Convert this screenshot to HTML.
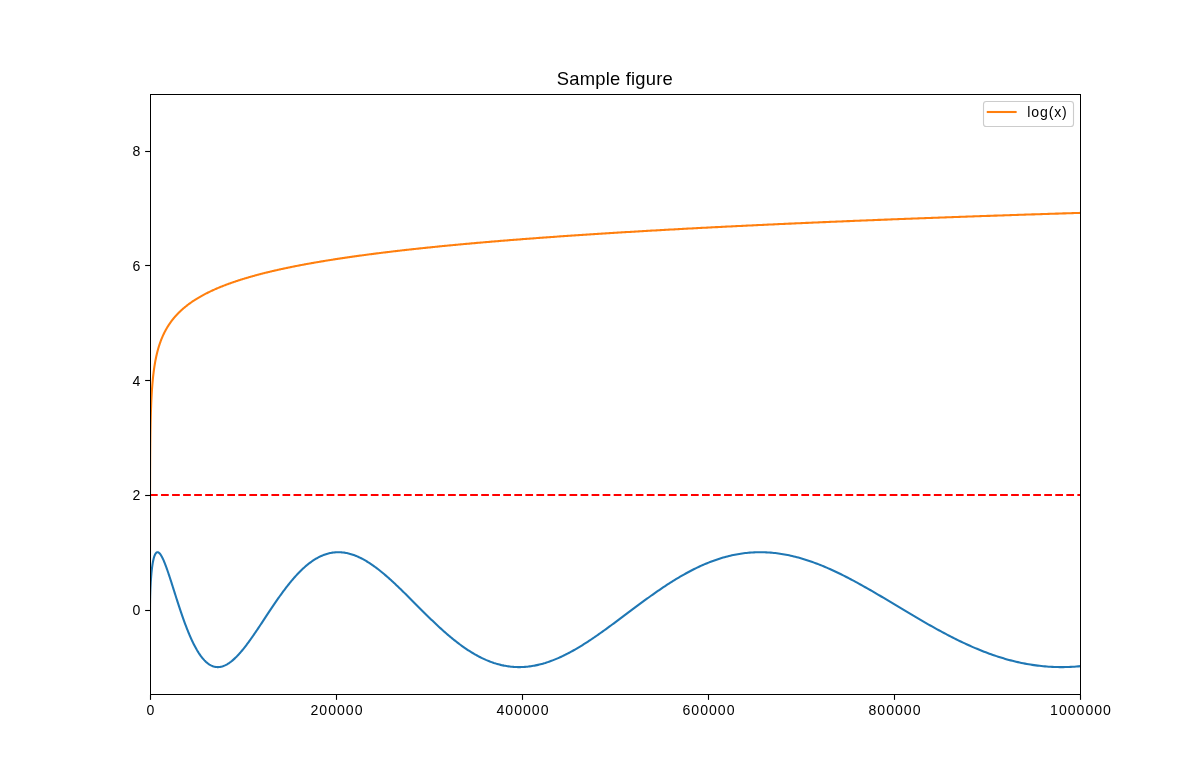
<!DOCTYPE html>
<html><head><meta charset="utf-8"><style>
html,body{margin:0;padding:0;background:#fff;}
body{width:1200px;height:780px;overflow:hidden;position:relative;font-family:"Liberation Sans",sans-serif;}
svg{position:absolute;left:0;top:0;will-change:transform;}
text{font-family:"Liberation Sans",sans-serif;fill:#000;}
</style></head><body>
<svg width="1200" height="780" viewBox="0 0 1200 780">
<defs><clipPath id="c"><rect x="150" y="94" width="931" height="601"/></clipPath></defs>
<g clip-path="url(#c)" fill="none" stroke-linejoin="round">
<path d="M150.00,609.66 L150.00,608.66 L150.00,607.66 L150.01,606.65 L150.01,605.65 L150.02,604.65 L150.03,603.66 L150.05,602.66 L150.06,601.67 L150.08,600.67 L150.09,599.69 L150.11,598.70 L150.13,597.72 L150.16,596.74 L150.18,595.76 L150.21,594.79 L150.24,593.83 L150.27,592.87 L150.30,591.91 L150.34,590.96 L150.37,590.02 L150.41,589.08 L150.45,588.14 L150.49,587.22 L150.54,586.30 L150.58,585.39 L150.63,584.48 L150.68,583.58 L150.73,582.69 L150.78,581.81 L150.84,580.94 L150.89,580.08 L150.95,579.22 L151.01,578.38 L151.08,577.54 L151.14,576.71 L151.21,575.90 L151.27,575.09 L151.34,574.30 L151.41,573.51 L151.49,572.74 L151.56,571.98 L151.64,571.23 L151.72,570.49 L151.80,569.76 L151.88,569.05 L151.97,568.34 L152.05,567.65 L152.14,566.98 L152.23,566.31 L152.32,565.66 L152.42,565.02 L152.51,564.40 L152.61,563.79 L152.71,563.19 L152.81,562.61 L152.92,562.04 L153.02,561.49 L153.13,560.95 L153.24,560.43 L153.35,559.92 L153.46,559.42 L153.57,558.95 L153.69,558.48 L153.81,558.04 L153.93,557.60 L154.05,557.19 L154.17,556.79 L154.30,556.40 L154.43,556.04 L154.56,555.69 L154.69,555.35 L154.82,555.03 L154.96,554.73 L155.09,554.45 L155.23,554.18 L155.37,553.93 L155.51,553.69 L155.66,553.48 L155.80,553.28 L155.95,553.09 L156.10,552.93 L156.25,552.78 L156.41,552.65 L156.56,552.54 L156.72,552.44 L156.88,552.36 L157.04,552.30 L157.20,552.26 L157.37,552.23 L157.53,552.22 L157.70,552.23 L157.87,552.26 L158.04,552.30 L158.22,552.36 L158.39,552.44 L158.57,552.54 L158.75,552.65 L158.93,552.78 L159.11,552.93 L159.30,553.09 L159.49,553.28 L159.68,553.48 L159.87,553.69 L160.06,553.93 L160.25,554.18 L160.45,554.45 L160.65,554.73 L160.85,555.03 L161.05,555.35 L161.25,555.69 L161.46,556.04 L161.67,556.40 L161.88,556.79 L162.09,557.19 L162.30,557.60 L162.51,558.04 L162.73,558.48 L162.95,558.95 L163.17,559.42 L163.39,559.92 L163.62,560.43 L163.84,560.95 L164.07,561.49 L164.30,562.04 L164.53,562.61 L164.76,563.19 L165.00,563.79 L165.24,564.40 L165.48,565.02 L165.72,565.66 L165.96,566.31 L166.20,566.98 L166.45,567.65 L166.70,568.34 L166.95,569.05 L167.20,569.76 L167.46,570.49 L167.71,571.23 L167.97,571.98 L168.23,572.74 L168.49,573.51 L168.75,574.30 L169.02,575.09 L169.28,575.90 L169.55,576.71 L169.82,577.54 L170.10,578.38 L170.37,579.22 L170.65,580.08 L170.93,580.94 L171.20,581.81 L171.49,582.69 L171.77,583.58 L172.06,584.48 L172.34,585.39 L172.63,586.30 L172.92,587.22 L173.22,588.14 L173.51,589.08 L173.81,590.02 L174.11,590.96 L174.41,591.91 L174.71,592.87 L175.01,593.83 L175.32,594.79 L175.63,595.76 L175.94,596.74 L176.25,597.72 L176.56,598.70 L176.88,599.69 L177.19,600.67 L177.51,601.67 L177.83,602.66 L178.16,603.66 L178.48,604.65 L178.81,605.65 L179.14,606.65 L179.47,607.66 L179.80,608.66 L180.13,609.66 L180.47,610.66 L180.81,611.66 L181.14,612.67 L181.49,613.67 L181.83,614.67 L182.17,615.66 L182.52,616.66 L182.87,617.65 L183.22,618.65 L183.57,619.63 L183.93,620.62 L184.28,621.60 L184.64,622.58 L185.00,623.56 L185.36,624.53 L185.73,625.49 L186.09,626.45 L186.46,627.41 L186.83,628.36 L187.20,629.30 L187.57,630.24 L187.95,631.18 L188.32,632.10 L188.70,633.02 L189.08,633.93 L189.47,634.84 L189.85,635.74 L190.24,636.63 L190.62,637.51 L191.01,638.38 L191.40,639.24 L191.80,640.10 L192.19,640.94 L192.59,641.78 L192.99,642.61 L193.39,643.42 L193.79,644.23 L194.20,645.02 L194.60,645.81 L195.01,646.58 L195.42,647.34 L195.83,648.09 L196.25,648.83 L196.66,649.56 L197.08,650.27 L197.50,650.98 L197.92,651.67 L198.35,652.34 L198.77,653.01 L199.20,653.66 L199.63,654.30 L200.06,654.92 L200.49,655.53 L200.92,656.13 L201.36,656.71 L201.80,657.28 L202.24,657.83 L202.68,658.37 L203.12,658.89 L203.57,659.40 L204.02,659.90 L204.46,660.37 L204.92,660.84 L205.37,661.28 L205.82,661.72 L206.28,662.13 L206.74,662.53 L207.20,662.92 L207.66,663.28 L208.12,663.63 L208.59,663.97 L209.06,664.29 L209.53,664.59 L210.00,664.87 L210.47,665.14 L210.95,665.39 L211.43,665.63 L211.90,665.84 L212.39,666.04 L212.87,666.23 L213.35,666.39 L213.84,666.54 L214.33,666.67 L214.82,666.78 L215.31,666.88 L215.80,666.96 L216.30,667.02 L216.80,667.06 L217.30,667.09 L217.80,667.10 L218.30,667.09 L218.81,667.06 L219.31,667.02 L219.82,666.96 L220.33,666.88 L220.84,666.78 L221.36,666.67 L221.87,666.54 L222.39,666.39 L222.91,666.23 L223.43,666.04 L223.96,665.84 L224.48,665.63 L225.01,665.39 L225.54,665.14 L226.07,664.87 L226.60,664.59 L227.14,664.29 L227.67,663.97 L228.21,663.63 L228.75,663.28 L229.30,662.92 L229.84,662.53 L230.39,662.13 L230.93,661.72 L231.48,661.28 L232.03,660.84 L232.59,660.37 L233.14,659.90 L233.70,659.40 L234.26,658.89 L234.82,658.37 L235.38,657.83 L235.95,657.28 L236.51,656.71 L237.08,656.13 L237.65,655.53 L238.22,654.92 L238.80,654.30 L239.37,653.66 L239.95,653.01 L240.53,652.34 L241.11,651.67 L241.69,650.98 L242.28,650.27 L242.87,649.56 L243.45,648.83 L244.05,648.09 L244.64,647.34 L245.23,646.58 L245.83,645.81 L246.43,645.02 L247.03,644.23 L247.63,643.42 L248.23,642.61 L248.84,641.78 L249.44,640.94 L250.05,640.10 L250.66,639.24 L251.28,638.38 L251.89,637.51 L252.51,636.63 L253.13,635.74 L253.75,634.84 L254.37,633.93 L254.99,633.02 L255.62,632.10 L256.25,631.18 L256.88,630.24 L257.51,629.30 L258.14,628.36 L258.78,627.41 L259.41,626.45 L260.05,625.49 L260.69,624.53 L261.34,623.56 L261.98,622.58 L262.63,621.60 L263.27,620.62 L263.93,619.63 L264.58,618.65 L265.23,617.65 L265.89,616.66 L266.54,615.66 L267.20,614.67 L267.86,613.67 L268.53,612.67 L269.19,611.66 L269.86,610.66 L270.53,609.66 L271.20,608.66 L271.87,607.66 L272.55,606.65 L273.22,605.65 L273.90,604.65 L274.58,603.66 L275.26,602.66 L275.94,601.67 L276.63,600.67 L277.32,599.69 L278.01,598.70 L278.70,597.72 L279.39,596.74 L280.08,595.76 L280.78,594.79 L281.48,593.83 L282.18,592.87 L282.88,591.91 L283.59,590.96 L284.29,590.02 L285.00,589.08 L285.71,588.14 L286.42,587.22 L287.13,586.30 L287.85,585.39 L288.57,584.48 L289.29,583.58 L290.01,582.69 L290.73,581.81 L291.45,580.94 L292.18,580.08 L292.91,579.22 L293.64,578.38 L294.37,577.54 L295.10,576.71 L295.84,575.90 L296.58,575.09 L297.32,574.30 L298.06,573.51 L298.80,572.74 L299.54,571.98 L300.29,571.23 L301.04,570.49 L301.79,569.76 L302.54,569.05 L303.30,568.34 L304.05,567.65 L304.81,566.98 L305.57,566.31 L306.33,565.66 L307.10,565.02 L307.86,564.40 L308.63,563.79 L309.40,563.19 L310.17,562.61 L310.94,562.04 L311.72,561.49 L312.49,560.95 L313.27,560.43 L314.05,559.92 L314.83,559.42 L315.62,558.95 L316.40,558.48 L317.19,558.04 L317.98,557.60 L318.77,557.19 L319.57,556.79 L320.36,556.40 L321.16,556.04 L321.96,555.69 L322.76,555.35 L323.56,555.03 L324.36,554.73 L325.17,554.45 L325.98,554.18 L326.79,553.93 L327.60,553.69 L328.41,553.48 L329.23,553.28 L330.05,553.09 L330.87,552.93 L331.69,552.78 L332.51,552.65 L333.34,552.54 L334.16,552.44 L334.99,552.36 L335.82,552.30 L336.65,552.26 L337.49,552.23 L338.32,552.22 L339.16,552.23 L340.00,552.26 L340.84,552.30 L341.69,552.36 L342.53,552.44 L343.38,552.54 L344.23,552.65 L345.08,552.78 L345.93,552.93 L346.79,553.09 L347.64,553.28 L348.50,553.48 L349.36,553.69 L350.23,553.93 L351.09,554.18 L351.96,554.45 L352.82,554.73 L353.69,555.03 L354.56,555.35 L355.44,555.69 L356.31,556.04 L357.19,556.40 L358.07,556.79 L358.95,557.19 L359.83,557.60 L360.72,558.04 L361.60,558.48 L362.49,558.95 L363.38,559.42 L364.27,559.92 L365.17,560.43 L366.06,560.95 L366.96,561.49 L367.86,562.04 L368.76,562.61 L369.66,563.19 L370.57,563.79 L371.47,564.40 L372.38,565.02 L373.29,565.66 L374.21,566.31 L375.12,566.98 L376.04,567.65 L376.95,568.34 L377.87,569.05 L378.79,569.76 L379.72,570.49 L380.64,571.23 L381.57,571.98 L382.50,572.74 L383.43,573.51 L384.36,574.30 L385.30,575.09 L386.23,575.90 L387.17,576.71 L388.11,577.54 L389.06,578.38 L390.00,579.22 L390.95,580.08 L391.89,580.94 L392.84,581.81 L393.79,582.69 L394.75,583.58 L395.70,584.48 L396.66,585.39 L397.62,586.30 L398.58,587.22 L399.54,588.14 L400.51,589.08 L401.47,590.02 L402.44,590.96 L403.41,591.91 L404.38,592.87 L405.36,593.83 L406.33,594.79 L407.31,595.76 L408.29,596.74 L409.27,597.72 L410.25,598.70 L411.24,599.69 L412.22,600.67 L413.21,601.67 L414.20,602.66 L415.20,603.66 L416.19,604.65 L417.19,605.65 L418.18,606.65 L419.18,607.66 L420.18,608.66 L421.19,609.66 L422.19,610.66 L423.20,611.66 L424.21,612.67 L425.22,613.67 L426.23,614.67 L427.25,615.66 L428.26,616.66 L429.28,617.65 L430.30,618.65 L431.32,619.63 L432.35,620.62 L433.37,621.60 L434.40,622.58 L435.43,623.56 L436.46,624.53 L437.50,625.49 L438.53,626.45 L439.57,627.41 L440.61,628.36 L441.65,629.30 L442.69,630.24 L443.73,631.18 L444.78,632.10 L445.83,633.02 L446.88,633.93 L447.93,634.84 L448.98,635.74 L450.04,636.63 L451.10,637.51 L452.16,638.38 L453.22,639.24 L454.28,640.10 L455.35,640.94 L456.41,641.78 L457.48,642.61 L458.55,643.42 L459.62,644.23 L460.70,645.02 L461.77,645.81 L462.85,646.58 L463.93,647.34 L465.01,648.09 L466.10,648.83 L467.18,649.56 L468.27,650.27 L469.36,650.98 L470.45,651.67 L471.54,652.34 L472.64,653.01 L473.73,653.66 L474.83,654.30 L475.93,654.92 L477.03,655.53 L478.14,656.13 L479.24,656.71 L480.35,657.28 L481.46,657.83 L482.57,658.37 L483.68,658.89 L484.80,659.40 L485.92,659.90 L487.04,660.37 L488.16,660.84 L489.28,661.28 L490.40,661.72 L491.53,662.13 L492.66,662.53 L493.79,662.92 L494.92,663.28 L496.05,663.63 L497.19,663.97 L498.33,664.29 L499.47,664.59 L500.61,664.87 L501.75,665.14 L502.89,665.39 L504.04,665.63 L505.19,665.84 L506.34,666.04 L507.49,666.23 L508.65,666.39 L509.80,666.54 L510.96,666.67 L512.12,666.78 L513.28,666.88 L514.44,666.96 L515.61,667.02 L516.78,667.06 L517.95,667.09 L519.12,667.10 L520.29,667.09 L521.46,667.06 L522.64,667.02 L523.82,666.96 L525.00,666.88 L526.18,666.78 L527.37,666.67 L528.55,666.54 L529.74,666.39 L530.93,666.23 L532.12,666.04 L533.31,665.84 L534.51,665.63 L535.70,665.39 L536.90,665.14 L538.10,664.87 L539.31,664.59 L540.51,664.29 L541.72,663.97 L542.92,663.63 L544.13,663.28 L545.35,662.92 L546.56,662.53 L547.78,662.13 L548.99,661.72 L550.21,661.28 L551.43,660.84 L552.66,660.37 L553.88,659.90 L555.11,659.40 L556.34,658.89 L557.57,658.37 L558.80,657.83 L560.03,657.28 L561.27,656.71 L562.51,656.13 L563.75,655.53 L564.99,654.92 L566.23,654.30 L567.48,653.66 L568.72,653.01 L569.97,652.34 L571.22,651.67 L572.48,650.98 L573.73,650.27 L574.99,649.56 L576.25,648.83 L577.51,648.09 L578.77,647.34 L580.03,646.58 L581.30,645.81 L582.57,645.02 L583.83,644.23 L585.11,643.42 L586.38,642.61 L587.65,641.78 L588.93,640.94 L590.21,640.10 L591.49,639.24 L592.77,638.38 L594.06,637.51 L595.34,636.63 L596.63,635.74 L597.92,634.84 L599.21,633.93 L600.51,633.02 L601.80,632.10 L603.10,631.18 L604.40,630.24 L605.70,629.30 L607.00,628.36 L608.31,627.41 L609.61,626.45 L610.92,625.49 L612.23,624.53 L613.55,623.56 L614.86,622.58 L616.18,621.60 L617.49,620.62 L618.81,619.63 L620.13,618.65 L621.46,617.65 L622.78,616.66 L624.11,615.66 L625.44,614.67 L626.77,613.67 L628.10,612.67 L629.44,611.66 L630.77,610.66 L632.11,609.66 L633.45,608.66 L634.79,607.66 L636.14,606.65 L637.48,605.65 L638.83,604.65 L640.18,603.66 L641.53,602.66 L642.89,601.67 L644.24,600.67 L645.60,599.69 L646.96,598.70 L648.32,597.72 L649.68,596.74 L651.04,595.76 L652.41,594.79 L653.78,593.83 L655.15,592.87 L656.52,591.91 L657.89,590.96 L659.27,590.02 L660.65,589.08 L662.02,588.14 L663.41,587.22 L664.79,586.30 L666.17,585.39 L667.56,584.48 L668.95,583.58 L670.34,582.69 L671.73,581.81 L673.12,580.94 L674.52,580.08 L675.92,579.22 L677.32,578.38 L678.72,577.54 L680.12,576.71 L681.53,575.90 L682.94,575.09 L684.34,574.30 L685.76,573.51 L687.17,572.74 L688.58,571.98 L690.00,571.23 L691.42,570.49 L692.84,569.76 L694.26,569.05 L695.68,568.34 L697.11,567.65 L698.54,566.98 L699.97,566.31 L701.40,565.66 L702.83,565.02 L704.27,564.40 L705.70,563.79 L707.14,563.19 L708.58,562.61 L710.02,562.04 L711.47,561.49 L712.91,560.95 L714.36,560.43 L715.81,559.92 L717.26,559.42 L718.72,558.95 L720.17,558.48 L721.63,558.04 L723.09,557.60 L724.55,557.19 L726.01,556.79 L727.48,556.40 L728.94,556.04 L730.41,555.69 L731.88,555.35 L733.36,555.03 L734.83,554.73 L736.31,554.45 L737.78,554.18 L739.26,553.93 L740.74,553.69 L742.23,553.48 L743.71,553.28 L745.20,553.09 L746.69,552.93 L748.18,552.78 L749.67,552.65 L751.17,552.54 L752.66,552.44 L754.16,552.36 L755.66,552.30 L757.16,552.26 L758.67,552.23 L760.17,552.22 L761.68,552.23 L763.19,552.26 L764.70,552.30 L766.21,552.36 L767.73,552.44 L769.25,552.54 L770.76,552.65 L772.29,552.78 L773.81,552.93 L775.33,553.09 L776.86,553.28 L778.39,553.48 L779.92,553.69 L781.45,553.93 L782.98,554.18 L784.52,554.45 L786.05,554.73 L787.59,555.03 L789.13,555.35 L790.68,555.69 L792.22,556.04 L793.77,556.40 L795.32,556.79 L796.87,557.19 L798.42,557.60 L799.97,558.04 L801.53,558.48 L803.09,558.95 L804.65,559.42 L806.21,559.92 L807.77,560.43 L809.34,560.95 L810.90,561.49 L812.47,562.04 L814.04,562.61 L815.62,563.19 L817.19,563.79 L818.77,564.40 L820.34,565.02 L821.92,565.66 L823.51,566.31 L825.09,566.98 L826.68,567.65 L828.26,568.34 L829.85,569.05 L831.44,569.76 L833.04,570.49 L834.63,571.23 L836.23,571.98 L837.83,572.74 L839.43,573.51 L841.03,574.30 L842.64,575.09 L844.24,575.90 L845.85,576.71 L847.46,577.54 L849.07,578.38 L850.68,579.22 L852.30,580.08 L853.92,580.94 L855.54,581.81 L857.16,582.69 L858.78,583.58 L860.40,584.48 L862.03,585.39 L863.66,586.30 L865.29,587.22 L866.92,588.14 L868.56,589.08 L870.19,590.02 L871.83,590.96 L873.47,591.91 L875.11,592.87 L876.75,593.83 L878.40,594.79 L880.05,595.76 L881.70,596.74 L883.35,597.72 L885.00,598.70 L886.65,599.69 L888.31,600.67 L889.97,601.67 L891.63,602.66 L893.29,603.66 L894.95,604.65 L896.62,605.65 L898.29,606.65 L899.96,607.66 L901.63,608.66 L903.30,609.66 L904.97,610.66 L906.65,611.66 L908.33,612.67 L910.01,613.67 L911.69,614.67 L913.38,615.66 L915.06,616.66 L916.75,617.65 L918.44,618.65 L920.13,619.63 L921.83,620.62 L923.52,621.60 L925.22,622.58 L926.92,623.56 L928.62,624.53 L930.32,625.49 L932.03,626.45 L933.73,627.41 L935.44,628.36 L937.15,629.30 L938.86,630.24 L940.58,631.18 L942.29,632.10 L944.01,633.02 L945.73,633.93 L947.45,634.84 L949.18,635.74 L950.90,636.63 L952.63,637.51 L954.36,638.38 L956.09,639.24 L957.82,640.10 L959.55,640.94 L961.29,641.78 L963.03,642.61 L964.77,643.42 L966.51,644.23 L968.25,645.02 L970.00,645.81 L971.75,646.58 L973.50,647.34 L975.25,648.09 L977.00,648.83 L978.76,649.56 L980.51,650.27 L982.27,650.98 L984.03,651.67 L985.79,652.34 L987.56,653.01 L989.33,653.66 L991.09,654.30 L992.86,654.92 L994.63,655.53 L996.41,656.13 L998.18,656.71 L999.96,657.28 L1001.74,657.83 L1003.52,658.37 L1005.30,658.89 L1007.09,659.40 L1008.87,659.90 L1010.66,660.37 L1012.45,660.84 L1014.25,661.28 L1016.04,661.72 L1017.84,662.13 L1019.63,662.53 L1021.43,662.92 L1023.23,663.28 L1025.04,663.63 L1026.84,663.97 L1028.65,664.29 L1030.46,664.59 L1032.27,664.87 L1034.08,665.14 L1035.90,665.39 L1037.71,665.63 L1039.53,665.84 L1041.35,666.04 L1043.17,666.23 L1045.00,666.39 L1046.82,666.54 L1048.65,666.67 L1050.48,666.78 L1052.31,666.88 L1054.14,666.96 L1055.98,667.02 L1057.81,667.06 L1059.65,667.09 L1061.49,667.10 L1063.34,667.09 L1065.18,667.06 L1067.03,667.02 L1068.87,666.96 L1070.72,666.88 L1072.57,666.78 L1074.43,666.67 L1076.28,666.54 L1078.14,666.39 L1080.00,666.23" stroke="#1f77b4" stroke-width="2.08" stroke-linecap="square"/>
<path d="M150.00,609.66 L150.00,569.85 L150.01,546.56 L150.01,530.03 L150.02,517.22 L150.03,506.74 L150.05,497.89 L150.06,490.22 L150.08,483.46 L150.09,477.40 L150.11,471.93 L150.13,466.93 L150.16,462.33 L150.18,458.08 L150.21,454.12 L150.24,450.41 L150.27,446.93 L150.30,443.64 L150.34,440.54 L150.37,437.59 L150.41,434.79 L150.45,432.12 L150.49,429.56 L150.54,427.12 L150.58,424.77 L150.63,422.52 L150.68,420.35 L150.73,418.26 L150.78,416.25 L150.84,414.30 L150.89,412.42 L150.95,410.60 L151.01,408.83 L151.08,407.11 L151.14,405.45 L151.21,403.83 L151.27,402.26 L151.34,400.72 L151.41,399.23 L151.49,397.78 L151.56,396.36 L151.64,394.98 L151.72,393.62 L151.80,392.30 L151.88,391.01 L151.97,389.75 L152.05,388.52 L152.14,387.31 L152.23,386.12 L152.32,384.96 L152.42,383.82 L152.51,382.71 L152.61,381.61 L152.71,380.54 L152.81,379.49 L152.92,378.45 L153.02,377.44 L153.13,376.44 L153.24,375.45 L153.35,374.49 L153.46,373.54 L153.57,372.61 L153.69,371.69 L153.81,370.78 L153.93,369.89 L154.05,369.01 L154.17,368.15 L154.30,367.30 L154.43,366.46 L154.56,365.63 L154.69,364.82 L154.82,364.02 L154.96,363.22 L155.09,362.44 L155.23,361.67 L155.37,360.91 L155.51,360.16 L155.66,359.42 L155.80,358.69 L155.95,357.97 L156.10,357.25 L156.25,356.55 L156.41,355.85 L156.56,355.16 L156.72,354.48 L156.88,353.81 L157.04,353.15 L157.20,352.49 L157.37,351.84 L157.53,351.20 L157.70,350.57 L157.87,349.94 L158.04,349.32 L158.22,348.70 L158.39,348.09 L158.57,347.49 L158.75,346.90 L158.93,346.31 L159.11,345.73 L159.30,345.15 L159.49,344.58 L159.68,344.01 L159.87,343.45 L160.06,342.90 L160.25,342.35 L160.45,341.80 L160.65,341.26 L160.85,340.73 L161.05,340.20 L161.25,339.67 L161.46,339.15 L161.67,338.64 L161.88,338.13 L162.09,337.62 L162.30,337.12 L162.51,336.62 L162.73,336.13 L162.95,335.64 L163.17,335.16 L163.39,334.68 L163.62,334.20 L163.84,333.73 L164.07,333.26 L164.30,332.79 L164.53,332.33 L164.76,331.87 L165.00,331.42 L165.24,330.97 L165.48,330.52 L165.72,330.08 L165.96,329.64 L166.20,329.20 L166.45,328.77 L166.70,328.34 L166.95,327.91 L167.20,327.49 L167.46,327.07 L167.71,326.65 L167.97,326.23 L168.23,325.82 L168.49,325.41 L168.75,325.01 L169.02,324.60 L169.28,324.20 L169.55,323.81 L169.82,323.41 L170.10,323.02 L170.37,322.63 L170.65,322.24 L170.93,321.86 L171.20,321.48 L171.49,321.10 L171.77,320.72 L172.06,320.35 L172.34,319.98 L172.63,319.61 L172.92,319.24 L173.22,318.87 L173.51,318.51 L173.81,318.15 L174.11,317.79 L174.41,317.44 L174.71,317.09 L175.01,316.73 L175.32,316.38 L175.63,316.04 L175.94,315.69 L176.25,315.35 L176.56,315.01 L176.88,314.67 L177.19,314.33 L177.51,314.00 L177.83,313.67 L178.16,313.33 L178.48,313.01 L178.81,312.68 L179.14,312.35 L179.47,312.03 L179.80,311.71 L180.13,311.39 L180.47,311.07 L180.81,310.75 L181.14,310.44 L181.49,310.12 L181.83,309.81 L182.17,309.50 L182.52,309.20 L182.87,308.89 L183.22,308.58 L183.57,308.28 L183.93,307.98 L184.28,307.68 L184.64,307.38 L185.00,307.08 L185.36,306.79 L185.73,306.50 L186.09,306.20 L186.46,305.91 L186.83,305.62 L187.20,305.34 L187.57,305.05 L187.95,304.76 L188.32,304.48 L188.70,304.20 L189.08,303.92 L189.47,303.64 L189.85,303.36 L190.24,303.08 L190.62,302.81 L191.01,302.53 L191.40,302.26 L191.80,301.99 L192.19,301.72 L192.59,301.45 L192.99,301.18 L193.39,300.91 L193.79,300.65 L194.20,300.39 L194.60,300.12 L195.01,299.86 L195.42,299.60 L195.83,299.34 L196.25,299.08 L196.66,298.83 L197.08,298.57 L197.50,298.32 L197.92,298.06 L198.35,297.81 L198.77,297.56 L199.20,297.31 L199.63,297.06 L200.06,296.81 L200.49,296.56 L200.92,296.32 L201.36,296.07 L201.80,295.83 L202.24,295.59 L202.68,295.34 L203.12,295.10 L203.57,294.86 L204.02,294.62 L204.46,294.39 L204.92,294.15 L205.37,293.91 L205.82,293.68 L206.28,293.44 L206.74,293.21 L207.20,292.98 L207.66,292.75 L208.12,292.52 L208.59,292.29 L209.06,292.06 L209.53,291.83 L210.00,291.61 L210.47,291.38 L210.95,291.16 L211.43,290.93 L211.90,290.71 L212.39,290.49 L212.87,290.27 L213.35,290.05 L213.84,289.83 L214.33,289.61 L214.82,289.39 L215.31,289.17 L215.80,288.96 L216.30,288.74 L216.80,288.52 L217.30,288.31 L217.80,288.10 L218.30,287.89 L218.81,287.67 L219.31,287.46 L219.82,287.25 L220.33,287.04 L220.84,286.84 L221.36,286.63 L221.87,286.42 L222.39,286.21 L222.91,286.01 L223.43,285.80 L223.96,285.60 L224.48,285.40 L225.01,285.19 L225.54,284.99 L226.07,284.79 L226.60,284.59 L227.14,284.39 L227.67,284.19 L228.21,283.99 L228.75,283.80 L229.30,283.60 L229.84,283.40 L230.39,283.21 L230.93,283.01 L231.48,282.82 L232.03,282.62 L232.59,282.43 L233.14,282.24 L233.70,282.05 L234.26,281.86 L234.82,281.66 L235.38,281.47 L235.95,281.29 L236.51,281.10 L237.08,280.91 L237.65,280.72 L238.22,280.53 L238.80,280.35 L239.37,280.16 L239.95,279.98 L240.53,279.79 L241.11,279.61 L241.69,279.43 L242.28,279.24 L242.87,279.06 L243.45,278.88 L244.05,278.70 L244.64,278.52 L245.23,278.34 L245.83,278.16 L246.43,277.98 L247.03,277.80 L247.63,277.63 L248.23,277.45 L248.84,277.27 L249.44,277.10 L250.05,276.92 L250.66,276.75 L251.28,276.57 L251.89,276.40 L252.51,276.22 L253.13,276.05 L253.75,275.88 L254.37,275.71 L254.99,275.54 L255.62,275.37 L256.25,275.20 L256.88,275.03 L257.51,274.86 L258.14,274.69 L258.78,274.52 L259.41,274.35 L260.05,274.19 L260.69,274.02 L261.34,273.85 L261.98,273.69 L262.63,273.52 L263.27,273.36 L263.93,273.19 L264.58,273.03 L265.23,272.86 L265.89,272.70 L266.54,272.54 L267.20,272.38 L267.86,272.22 L268.53,272.05 L269.19,271.89 L269.86,271.73 L270.53,271.57 L271.20,271.41 L271.87,271.26 L272.55,271.10 L273.22,270.94 L273.90,270.78 L274.58,270.62 L275.26,270.47 L275.94,270.31 L276.63,270.16 L277.32,270.00 L278.01,269.85 L278.70,269.69 L279.39,269.54 L280.08,269.38 L280.78,269.23 L281.48,269.08 L282.18,268.92 L282.88,268.77 L283.59,268.62 L284.29,268.47 L285.00,268.32 L285.71,268.17 L286.42,268.02 L287.13,267.87 L287.85,267.72 L288.57,267.57 L289.29,267.42 L290.01,267.27 L290.73,267.12 L291.45,266.98 L292.18,266.83 L292.91,266.68 L293.64,266.54 L294.37,266.39 L295.10,266.24 L295.84,266.10 L296.58,265.95 L297.32,265.81 L298.06,265.67 L298.80,265.52 L299.54,265.38 L300.29,265.24 L301.04,265.09 L301.79,264.95 L302.54,264.81 L303.30,264.67 L304.05,264.53 L304.81,264.38 L305.57,264.24 L306.33,264.10 L307.10,263.96 L307.86,263.82 L308.63,263.69 L309.40,263.55 L310.17,263.41 L310.94,263.27 L311.72,263.13 L312.49,262.99 L313.27,262.86 L314.05,262.72 L314.83,262.58 L315.62,262.45 L316.40,262.31 L317.19,262.18 L317.98,262.04 L318.77,261.91 L319.57,261.77 L320.36,261.64 L321.16,261.50 L321.96,261.37 L322.76,261.23 L323.56,261.10 L324.36,260.97 L325.17,260.84 L325.98,260.70 L326.79,260.57 L327.60,260.44 L328.41,260.31 L329.23,260.18 L330.05,260.05 L330.87,259.92 L331.69,259.79 L332.51,259.66 L333.34,259.53 L334.16,259.40 L334.99,259.27 L335.82,259.14 L336.65,259.01 L337.49,258.88 L338.32,258.76 L339.16,258.63 L340.00,258.50 L340.84,258.38 L341.69,258.25 L342.53,258.12 L343.38,258.00 L344.23,257.87 L345.08,257.74 L345.93,257.62 L346.79,257.49 L347.64,257.37 L348.50,257.25 L349.36,257.12 L350.23,257.00 L351.09,256.87 L351.96,256.75 L352.82,256.63 L353.69,256.50 L354.56,256.38 L355.44,256.26 L356.31,256.14 L357.19,256.02 L358.07,255.89 L358.95,255.77 L359.83,255.65 L360.72,255.53 L361.60,255.41 L362.49,255.29 L363.38,255.17 L364.27,255.05 L365.17,254.93 L366.06,254.81 L366.96,254.69 L367.86,254.57 L368.76,254.45 L369.66,254.34 L370.57,254.22 L371.47,254.10 L372.38,253.98 L373.29,253.87 L374.21,253.75 L375.12,253.63 L376.04,253.52 L376.95,253.40 L377.87,253.28 L378.79,253.17 L379.72,253.05 L380.64,252.94 L381.57,252.82 L382.50,252.71 L383.43,252.59 L384.36,252.48 L385.30,252.36 L386.23,252.25 L387.17,252.13 L388.11,252.02 L389.06,251.91 L390.00,251.79 L390.95,251.68 L391.89,251.57 L392.84,251.46 L393.79,251.34 L394.75,251.23 L395.70,251.12 L396.66,251.01 L397.62,250.90 L398.58,250.78 L399.54,250.67 L400.51,250.56 L401.47,250.45 L402.44,250.34 L403.41,250.23 L404.38,250.12 L405.36,250.01 L406.33,249.90 L407.31,249.79 L408.29,249.68 L409.27,249.58 L410.25,249.47 L411.24,249.36 L412.22,249.25 L413.21,249.14 L414.20,249.03 L415.20,248.93 L416.19,248.82 L417.19,248.71 L418.18,248.60 L419.18,248.50 L420.18,248.39 L421.19,248.28 L422.19,248.18 L423.20,248.07 L424.21,247.97 L425.22,247.86 L426.23,247.76 L427.25,247.65 L428.26,247.55 L429.28,247.44 L430.30,247.34 L431.32,247.23 L432.35,247.13 L433.37,247.02 L434.40,246.92 L435.43,246.81 L436.46,246.71 L437.50,246.61 L438.53,246.50 L439.57,246.40 L440.61,246.30 L441.65,246.20 L442.69,246.09 L443.73,245.99 L444.78,245.89 L445.83,245.79 L446.88,245.69 L447.93,245.58 L448.98,245.48 L450.04,245.38 L451.10,245.28 L452.16,245.18 L453.22,245.08 L454.28,244.98 L455.35,244.88 L456.41,244.78 L457.48,244.68 L458.55,244.58 L459.62,244.48 L460.70,244.38 L461.77,244.28 L462.85,244.18 L463.93,244.08 L465.01,243.98 L466.10,243.88 L467.18,243.79 L468.27,243.69 L469.36,243.59 L470.45,243.49 L471.54,243.39 L472.64,243.30 L473.73,243.20 L474.83,243.10 L475.93,243.00 L477.03,242.91 L478.14,242.81 L479.24,242.71 L480.35,242.62 L481.46,242.52 L482.57,242.42 L483.68,242.33 L484.80,242.23 L485.92,242.14 L487.04,242.04 L488.16,241.95 L489.28,241.85 L490.40,241.76 L491.53,241.66 L492.66,241.57 L493.79,241.47 L494.92,241.38 L496.05,241.28 L497.19,241.19 L498.33,241.10 L499.47,241.00 L500.61,240.91 L501.75,240.81 L502.89,240.72 L504.04,240.63 L505.19,240.54 L506.34,240.44 L507.49,240.35 L508.65,240.26 L509.80,240.16 L510.96,240.07 L512.12,239.98 L513.28,239.89 L514.44,239.80 L515.61,239.70 L516.78,239.61 L517.95,239.52 L519.12,239.43 L520.29,239.34 L521.46,239.25 L522.64,239.16 L523.82,239.07 L525.00,238.98 L526.18,238.89 L527.37,238.80 L528.55,238.71 L529.74,238.62 L530.93,238.53 L532.12,238.44 L533.31,238.35 L534.51,238.26 L535.70,238.17 L536.90,238.08 L538.10,237.99 L539.31,237.90 L540.51,237.81 L541.72,237.72 L542.92,237.64 L544.13,237.55 L545.35,237.46 L546.56,237.37 L547.78,237.28 L548.99,237.20 L550.21,237.11 L551.43,237.02 L552.66,236.93 L553.88,236.85 L555.11,236.76 L556.34,236.67 L557.57,236.58 L558.80,236.50 L560.03,236.41 L561.27,236.33 L562.51,236.24 L563.75,236.15 L564.99,236.07 L566.23,235.98 L567.48,235.89 L568.72,235.81 L569.97,235.72 L571.22,235.64 L572.48,235.55 L573.73,235.47 L574.99,235.38 L576.25,235.30 L577.51,235.21 L578.77,235.13 L580.03,235.04 L581.30,234.96 L582.57,234.88 L583.83,234.79 L585.11,234.71 L586.38,234.62 L587.65,234.54 L588.93,234.46 L590.21,234.37 L591.49,234.29 L592.77,234.21 L594.06,234.12 L595.34,234.04 L596.63,233.96 L597.92,233.87 L599.21,233.79 L600.51,233.71 L601.80,233.63 L603.10,233.54 L604.40,233.46 L605.70,233.38 L607.00,233.30 L608.31,233.22 L609.61,233.13 L610.92,233.05 L612.23,232.97 L613.55,232.89 L614.86,232.81 L616.18,232.73 L617.49,232.65 L618.81,232.56 L620.13,232.48 L621.46,232.40 L622.78,232.32 L624.11,232.24 L625.44,232.16 L626.77,232.08 L628.10,232.00 L629.44,231.92 L630.77,231.84 L632.11,231.76 L633.45,231.68 L634.79,231.60 L636.14,231.52 L637.48,231.44 L638.83,231.36 L640.18,231.28 L641.53,231.21 L642.89,231.13 L644.24,231.05 L645.60,230.97 L646.96,230.89 L648.32,230.81 L649.68,230.73 L651.04,230.65 L652.41,230.58 L653.78,230.50 L655.15,230.42 L656.52,230.34 L657.89,230.26 L659.27,230.19 L660.65,230.11 L662.02,230.03 L663.41,229.95 L664.79,229.88 L666.17,229.80 L667.56,229.72 L668.95,229.65 L670.34,229.57 L671.73,229.49 L673.12,229.42 L674.52,229.34 L675.92,229.26 L677.32,229.19 L678.72,229.11 L680.12,229.03 L681.53,228.96 L682.94,228.88 L684.34,228.81 L685.76,228.73 L687.17,228.66 L688.58,228.58 L690.00,228.50 L691.42,228.43 L692.84,228.35 L694.26,228.28 L695.68,228.20 L697.11,228.13 L698.54,228.05 L699.97,227.98 L701.40,227.90 L702.83,227.83 L704.27,227.76 L705.70,227.68 L707.14,227.61 L708.58,227.53 L710.02,227.46 L711.47,227.38 L712.91,227.31 L714.36,227.24 L715.81,227.16 L717.26,227.09 L718.72,227.02 L720.17,226.94 L721.63,226.87 L723.09,226.80 L724.55,226.72 L726.01,226.65 L727.48,226.58 L728.94,226.50 L730.41,226.43 L731.88,226.36 L733.36,226.29 L734.83,226.21 L736.31,226.14 L737.78,226.07 L739.26,226.00 L740.74,225.93 L742.23,225.85 L743.71,225.78 L745.20,225.71 L746.69,225.64 L748.18,225.57 L749.67,225.49 L751.17,225.42 L752.66,225.35 L754.16,225.28 L755.66,225.21 L757.16,225.14 L758.67,225.07 L760.17,225.00 L761.68,224.92 L763.19,224.85 L764.70,224.78 L766.21,224.71 L767.73,224.64 L769.25,224.57 L770.76,224.50 L772.29,224.43 L773.81,224.36 L775.33,224.29 L776.86,224.22 L778.39,224.15 L779.92,224.08 L781.45,224.01 L782.98,223.94 L784.52,223.87 L786.05,223.80 L787.59,223.73 L789.13,223.66 L790.68,223.59 L792.22,223.53 L793.77,223.46 L795.32,223.39 L796.87,223.32 L798.42,223.25 L799.97,223.18 L801.53,223.11 L803.09,223.04 L804.65,222.98 L806.21,222.91 L807.77,222.84 L809.34,222.77 L810.90,222.70 L812.47,222.63 L814.04,222.57 L815.62,222.50 L817.19,222.43 L818.77,222.36 L820.34,222.29 L821.92,222.23 L823.51,222.16 L825.09,222.09 L826.68,222.02 L828.26,221.96 L829.85,221.89 L831.44,221.82 L833.04,221.76 L834.63,221.69 L836.23,221.62 L837.83,221.56 L839.43,221.49 L841.03,221.42 L842.64,221.36 L844.24,221.29 L845.85,221.22 L847.46,221.16 L849.07,221.09 L850.68,221.02 L852.30,220.96 L853.92,220.89 L855.54,220.83 L857.16,220.76 L858.78,220.69 L860.40,220.63 L862.03,220.56 L863.66,220.50 L865.29,220.43 L866.92,220.37 L868.56,220.30 L870.19,220.23 L871.83,220.17 L873.47,220.10 L875.11,220.04 L876.75,219.97 L878.40,219.91 L880.05,219.84 L881.70,219.78 L883.35,219.72 L885.00,219.65 L886.65,219.59 L888.31,219.52 L889.97,219.46 L891.63,219.39 L893.29,219.33 L894.95,219.26 L896.62,219.20 L898.29,219.14 L899.96,219.07 L901.63,219.01 L903.30,218.94 L904.97,218.88 L906.65,218.82 L908.33,218.75 L910.01,218.69 L911.69,218.63 L913.38,218.56 L915.06,218.50 L916.75,218.44 L918.44,218.37 L920.13,218.31 L921.83,218.25 L923.52,218.18 L925.22,218.12 L926.92,218.06 L928.62,217.99 L930.32,217.93 L932.03,217.87 L933.73,217.81 L935.44,217.74 L937.15,217.68 L938.86,217.62 L940.58,217.56 L942.29,217.49 L944.01,217.43 L945.73,217.37 L947.45,217.31 L949.18,217.25 L950.90,217.18 L952.63,217.12 L954.36,217.06 L956.09,217.00 L957.82,216.94 L959.55,216.88 L961.29,216.81 L963.03,216.75 L964.77,216.69 L966.51,216.63 L968.25,216.57 L970.00,216.51 L971.75,216.45 L973.50,216.39 L975.25,216.32 L977.00,216.26 L978.76,216.20 L980.51,216.14 L982.27,216.08 L984.03,216.02 L985.79,215.96 L987.56,215.90 L989.33,215.84 L991.09,215.78 L992.86,215.72 L994.63,215.66 L996.41,215.60 L998.18,215.54 L999.96,215.48 L1001.74,215.42 L1003.52,215.36 L1005.30,215.30 L1007.09,215.24 L1008.87,215.18 L1010.66,215.12 L1012.45,215.06 L1014.25,215.00 L1016.04,214.94 L1017.84,214.88 L1019.63,214.82 L1021.43,214.76 L1023.23,214.70 L1025.04,214.64 L1026.84,214.58 L1028.65,214.52 L1030.46,214.46 L1032.27,214.41 L1034.08,214.35 L1035.90,214.29 L1037.71,214.23 L1039.53,214.17 L1041.35,214.11 L1043.17,214.05 L1045.00,213.99 L1046.82,213.94 L1048.65,213.88 L1050.48,213.82 L1052.31,213.76 L1054.14,213.70 L1055.98,213.64 L1057.81,213.59 L1059.65,213.53 L1061.49,213.47 L1063.34,213.41 L1065.18,213.35 L1067.03,213.30 L1068.87,213.24 L1070.72,213.18 L1072.57,213.12 L1074.43,213.06 L1076.28,213.01 L1078.14,212.95 L1080.00,212.89" stroke="#ff7f0e" stroke-width="2.08" stroke-linecap="square"/>
<path d="M150,495 L1081,495" stroke="#ff0000" stroke-width="2.08" stroke-dasharray="7.71 3.33"/>
</g>
<g stroke="#000" stroke-width="1.11" fill="none">
<rect x="150.5" y="94.5" width="930" height="600" shape-rendering="crispEdges" stroke-width="1"/>
<path d="M150.5,694.5 v5.36"/>
<path d="M336.5,694.5 v5.36"/>
<path d="M522.5,694.5 v5.36"/>
<path d="M708.5,694.5 v5.36"/>
<path d="M894.5,694.5 v5.36"/>
<path d="M1080.5,694.5 v5.36"/>
<path d="M150.5,610.5 h-5.36"/>
<path d="M150.5,495.5 h-5.36"/>
<path d="M150.5,380.5 h-5.36"/>
<path d="M150.5,265.5 h-5.36"/>
<path d="M150.5,151.5 h-5.36"/>
</g>
<g font-size="14.1px" letter-spacing="1px">
<text x="151.0" y="715" text-anchor="middle">0</text>
<text x="337.0" y="715" text-anchor="middle">200000</text>
<text x="523.0" y="715" text-anchor="middle">400000</text>
<text x="709.0" y="715" text-anchor="middle">600000</text>
<text x="895.0" y="715" text-anchor="middle">800000</text>
<text x="1081.0" y="715" text-anchor="middle">1000000</text>
<text x="140.4" y="615" text-anchor="end" letter-spacing="0">0</text>
<text x="140.4" y="500" text-anchor="end" letter-spacing="0">2</text>
<text x="140.4" y="386" text-anchor="end" letter-spacing="0">4</text>
<text x="140.4" y="271" text-anchor="end" letter-spacing="0">6</text>
<text x="140.4" y="156" text-anchor="end" letter-spacing="0">8</text>
</g>
<text x="614.9" y="84.5" text-anchor="middle" font-size="18.4px" letter-spacing="0.22px">Sample figure</text>
<rect x="983.5" y="101.5" width="90" height="25" rx="2.8" ry="2.8" fill="#fff" fill-opacity="0.8" stroke="#cccccc" stroke-width="1.11"/>
<path d="M987.8,112 h27.8" stroke="#ff7f0e" stroke-width="2.08" stroke-linecap="square" fill="none"/>
<text x="1027.3" y="116.8" font-size="14.1px" letter-spacing="0.85px">log(x)</text>
</svg>
</body></html>
